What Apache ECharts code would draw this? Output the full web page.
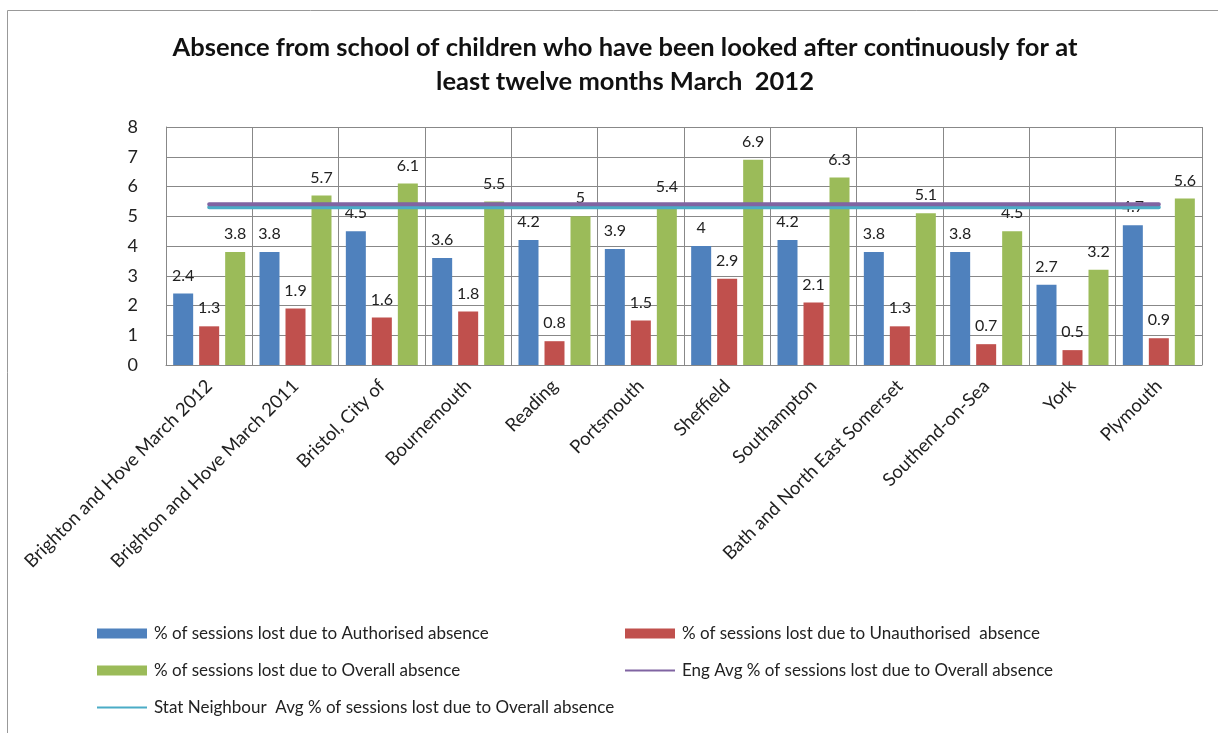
<!DOCTYPE html>
<html><head><meta charset="utf-8">
<script src="https://cdn.jsdelivr.net/npm/echarts@6/dist/echarts.min.js"></script>
<style>html,body{margin:0;padding:0;background:#fff}#c{width:1218px;height:733px}</style>
</head><body><div id="c"></div>
<script>
var categories = ["Brighton and Hove March 2012","Brighton and Hove March 2011","Bristol, City of","Bournemouth","Reading","Portsmouth","Sheffield","Southampton","Bath and North East Somerset","Southend-on-Sea","York","Plymouth"];
var authorised = [2.4,3.8,4.5,3.6,4.2,3.9,4,4.2,3.8,3.8,2.7,4.7];
var unauthorised = [1.3,1.9,1.6,1.8,0.8,1.5,2.9,2.1,1.3,0.7,0.5,0.9];
var overall = [3.8,5.7,6.1,5.5,5,5.4,6.9,6.3,5.1,4.5,3.2,5.6];
var engAvg = [5.4,5.4,5.4,5.4,5.4,5.4,5.4,5.4,5.4,5.4,5.4,5.4];
var statAvg = [5.3,5.3,5.3,5.3,5.3,5.3,5.3,5.3,5.3,5.3,5.3,5.3];
var names = ["% of sessions lost due to Authorised absence","% of sessions lost due to Unauthorised  absence","% of sessions lost due to Overall absence","Eng Avg % of sessions lost due to Overall absence","Stat Neighbour  Avg % of sessions lost due to Overall absence"];
var colors = ["#4F81BD","#C0504D","#9BBB59","#8064A2","#4BACC6"];
var FONT = "Lato";
var chart = echarts.init(document.getElementById('c'));
var lbl = {show:true,position:'top',distance:10,color:'#222',fontSize:16,fontFamily:FONT};
function leg(i,left,top,isLine){
  return {show:true,left:left,top:top,data:[{name:names[i],icon:'rect'}],itemWidth:50,itemHeight:isLine?2:10,itemGap:0,
    textStyle:{fontSize:17,color:'#222',fontFamily:FONT,padding:[0,0,0,2]},selectedMode:false};
}
chart.setOption({
  animation:false,
  color:colors,
  title:{text:"Absence from school of children who have been looked after continuously for at\nleast twelve months March  2012",left:620,top:26,textAlign:'center',
    textStyle:{fontSize:25.5,fontWeight:'bold',color:'#111',fontFamily:FONT,lineHeight:34}},
  graphic:[{type:'rect',shape:{x:7.5,y:10.5,width:1300,height:800},style:{fill:'none',stroke:'#999',lineWidth:1}}],
  legend:[leg(0,92,620,false),leg(1,620,620,false),leg(2,92,657,false),leg(3,620,657,true),leg(4,92,694,true)],
  grid:{left:166,right:16,top:127,bottom:368},
  xAxis:{type:'category',data:categories,boundaryGap:true,
    axisLine:{lineStyle:{color:'#888'}},axisTick:{show:false},
    splitLine:{show:true,interval:0,lineStyle:{color:'#888',width:1}},
    axisLabel:{interval:0,rotate:45,fontSize:18.5,color:'#222',fontFamily:FONT,margin:18}},
  yAxis:{type:'value',min:0,max:8,interval:1,
    axisLine:{show:true,lineStyle:{color:'#888'}},axisTick:{show:false},
    splitLine:{lineStyle:{color:'#888',width:1}},
    axisLabel:{fontSize:18,color:'#222',fontFamily:FONT,margin:28}},
  series:[
    {name:names[0],type:'bar',data:authorised,barWidth:20,barGap:'30%',label:lbl,itemStyle:{color:colors[0]}},
    {name:names[1],type:'bar',data:unauthorised,barWidth:20,barGap:'30%',label:lbl,itemStyle:{color:colors[1]}},
    {name:names[2],type:'bar',data:overall,barWidth:20,barGap:'30%',label:lbl,itemStyle:{color:colors[2]}},
    {name:names[4],type:'line',data:statAvg,symbol:'none',z:5,lineStyle:{color:colors[4],width:4,cap:'round'},itemStyle:{color:colors[4]}},
    {name:names[3],type:'line',data:engAvg,symbol:'none',z:6,lineStyle:{color:colors[3],width:4,cap:'round'},itemStyle:{color:colors[3]}}
  ]
});
</script></body></html>
